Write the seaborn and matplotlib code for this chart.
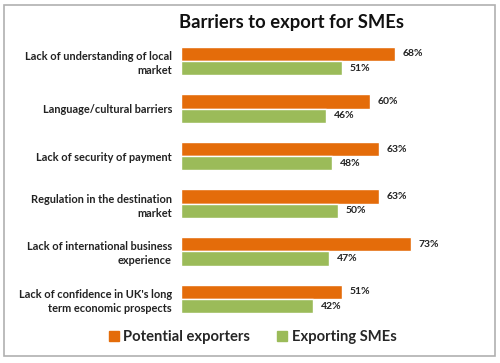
"""Barriers to export for SMEs - horizontal grouped bar chart."""

import matplotlib.pyplot as plt
import pandas as pd
import seaborn as sns
from matplotlib.patches import Rectangle

BARRIERS = [
    "Lack of understanding of local\nmarket",
    "Language/cultural barriers",
    "Lack of security of payment",
    "Regulation in the destination\nmarket",
    "Lack of international business\nexperience",
    "Lack of confidence in UK's long\nterm economic prospects",
]
POTENTIAL_EXPORTERS = [68, 60, 63, 63, 73, 51]
EXPORTING_SMES = [51, 46, 48, 50, 47, 42]
SERIES = ["Potential exporters", "Exporting SMEs"]
COLORS = ["#E46C0A", "#9BBB59"]

sns.set_theme(style="white")
plt.rcParams["font.family"] = ["Lato", "DejaVu Sans"]

df = pd.DataFrame({
    "barrier": BARRIERS * 2,
    "value": POTENTIAL_EXPORTERS + EXPORTING_SMES,
    "series": [SERIES[0]] * len(BARRIERS) + [SERIES[1]] * len(BARRIERS),
})

fig = plt.figure(figsize=(5, 3.63), dpi=100)
ax = fig.add_axes([0.362, 0.111, 0.598, 0.7865])

sns.barplot(
    data=df, y="barrier", x="value", hue="series", orient="h",
    palette=COLORS, width=0.6, saturation=1, ax=ax, legend=False,
)

for container in ax.containers:
    ax.bar_label(container, fmt="%d%%", padding=5.5, fontsize=7.5, fontweight="bold", color="#222222")

ax.set_xlim(0, 95)
ax.set_ylim(5.5, -0.5)
ax.set_xlabel("")
ax.set_ylabel("")
ax.set_xticks([])
ax.tick_params(axis="y", length=0, pad=6.5)
for label in ax.get_yticklabels():
    label.set_fontsize(7.9)
    label.set_fontweight("bold")
    label.set_color("#222222")
    label.set_horizontalalignment("right")
    label.set_linespacing(1.35)
sns.despine(ax=ax, left=True, bottom=True, top=True, right=True)

fig.text(0.583, 0.939, "Barriers to export for SMEs", ha="center", va="center",
         fontsize=13.2, fontweight="bold", color="#111111")

handles = [Rectangle((0, 0), 1, 1, color=c) for c in COLORS]
fig.legend(handles, SERIES, loc="center", bbox_to_anchor=(0.505, 0.072), ncol=2,
           frameon=False, prop={"size": 10.6, "weight": "bold"},
           handlelength=0.7, handleheight=0.7, handletextpad=0.3, columnspacing=1.8)

fig.patches.append(Rectangle((0.008, 0.02), 0.982, 0.966, transform=fig.transFigure,
                             fill=False, edgecolor="#b0b0b0", linewidth=1.2))

fig.savefig("out.png", dpi=100)
